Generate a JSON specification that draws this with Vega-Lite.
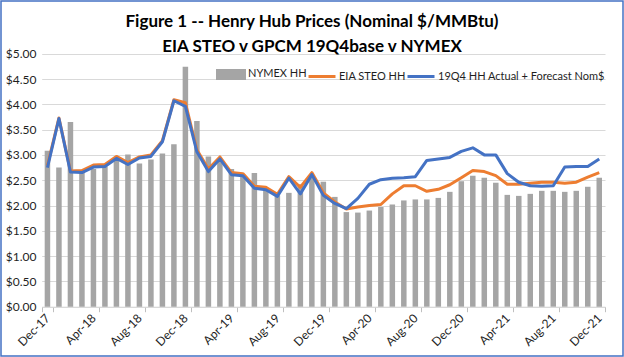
{
  "$schema": "https://vega.github.io/schema/vega-lite/v6.json",
  "width": 622,
  "height": 355,
  "autosize": {"type": "none"},
  "padding": {"left": 1, "top": 1, "right": 1, "bottom": 1},
  "background": "white",
  "config": {
    "view": {"stroke": "#4472C4", "strokeWidth": 1.5},
    "font": "Lato",
    "axis": {"labelFont": "Lato", "labelColor": "#1f1f1f", "labelFontSize": 12, "titleFont": "Lato"},
    "legend": {"labelFont": "Lato"}
  },
  "title": {
    "text": ["Figure 1 -- Henry Hub Prices (Nominal $/MMBtu)", "EIA STEO v GPCM 19Q4base v NYMEX"],
    "font": "Lato",
    "fontSize": 17,
    "fontWeight": "bold",
    "color": "#000000",
    "lineHeight": 25,
    "anchor": "middle",
    "frame": "group",
    "offset": -55
  },
  "data": {
    "values": [
      {"month": "Dec-17", "nymex": 3.08, "steo": 2.79, "gpcm": 2.75},
      {"month": "Jan-18", "nymex": 2.75, "steo": 3.73, "gpcm": 3.72},
      {"month": "Feb-18", "nymex": 3.65, "steo": 2.68, "gpcm": 2.66},
      {"month": "Mar-18", "nymex": 2.64, "steo": 2.69, "gpcm": 2.65},
      {"month": "Apr-18", "nymex": 2.72, "steo": 2.80, "gpcm": 2.76},
      {"month": "May-18", "nymex": 2.77, "steo": 2.81, "gpcm": 2.77},
      {"month": "Jun-18", "nymex": 2.93, "steo": 2.97, "gpcm": 2.93},
      {"month": "Jul-18", "nymex": 3.01, "steo": 2.85, "gpcm": 2.81},
      {"month": "Aug-18", "nymex": 2.83, "steo": 2.96, "gpcm": 2.94},
      {"month": "Sep-18", "nymex": 2.91, "steo": 3.00, "gpcm": 2.97},
      {"month": "Oct-18", "nymex": 3.03, "steo": 3.28, "gpcm": 3.26},
      {"month": "Nov-18", "nymex": 3.21, "steo": 4.09, "gpcm": 4.07},
      {"month": "Dec-18", "nymex": 4.74, "steo": 4.03, "gpcm": 3.96},
      {"month": "Jan-19", "nymex": 3.67, "steo": 3.10, "gpcm": 3.06},
      {"month": "Feb-19", "nymex": 2.97, "steo": 2.72, "gpcm": 2.67},
      {"month": "Mar-19", "nymex": 2.90, "steo": 2.96, "gpcm": 2.92},
      {"month": "Apr-19", "nymex": 2.72, "steo": 2.65, "gpcm": 2.61},
      {"month": "May-19", "nymex": 2.61, "steo": 2.63, "gpcm": 2.59},
      {"month": "Jun-19", "nymex": 2.64, "steo": 2.38, "gpcm": 2.34},
      {"month": "Jul-19", "nymex": 2.34, "steo": 2.36, "gpcm": 2.31},
      {"month": "Aug-19", "nymex": 2.20, "steo": 2.22, "gpcm": 2.18},
      {"month": "Sep-19", "nymex": 2.25, "steo": 2.57, "gpcm": 2.54},
      {"month": "Oct-19", "nymex": 2.42, "steo": 2.36, "gpcm": 2.23},
      {"month": "Nov-19", "nymex": 2.60, "steo": 2.65, "gpcm": 2.61},
      {"month": "Dec-19", "nymex": 2.47, "steo": 2.25, "gpcm": 2.20},
      {"month": "Jan-20", "nymex": 2.17, "steo": 2.07, "gpcm": 2.04},
      {"month": "Feb-20", "nymex": 1.87, "steo": 1.93, "gpcm": 1.94},
      {"month": "Mar-20", "nymex": 1.86, "steo": 1.97, "gpcm": 2.14},
      {"month": "Apr-20", "nymex": 1.90, "steo": 2.00, "gpcm": 2.42},
      {"month": "May-20", "nymex": 1.97, "steo": 2.02, "gpcm": 2.51},
      {"month": "Jun-20", "nymex": 2.02, "steo": 2.23, "gpcm": 2.54},
      {"month": "Jul-20", "nymex": 2.10, "steo": 2.39, "gpcm": 2.55},
      {"month": "Aug-20", "nymex": 2.12, "steo": 2.39, "gpcm": 2.57},
      {"month": "Sep-20", "nymex": 2.12, "steo": 2.28, "gpcm": 2.89},
      {"month": "Oct-20", "nymex": 2.15, "steo": 2.32, "gpcm": 2.92},
      {"month": "Nov-20", "nymex": 2.27, "steo": 2.41, "gpcm": 2.95},
      {"month": "Dec-20", "nymex": 2.48, "steo": 2.55, "gpcm": 3.07},
      {"month": "Jan-21", "nymex": 2.59, "steo": 2.69, "gpcm": 3.14},
      {"month": "Feb-21", "nymex": 2.55, "steo": 2.67, "gpcm": 3.00},
      {"month": "Mar-21", "nymex": 2.45, "steo": 2.59, "gpcm": 3.00},
      {"month": "Apr-21", "nymex": 2.21, "steo": 2.42, "gpcm": 2.63},
      {"month": "May-21", "nymex": 2.19, "steo": 2.42, "gpcm": 2.46},
      {"month": "Jun-21", "nymex": 2.23, "steo": 2.44, "gpcm": 2.39},
      {"month": "Jul-21", "nymex": 2.29, "steo": 2.46, "gpcm": 2.38},
      {"month": "Aug-21", "nymex": 2.29, "steo": 2.46, "gpcm": 2.39},
      {"month": "Sep-21", "nymex": 2.27, "steo": 2.44, "gpcm": 2.76},
      {"month": "Oct-21", "nymex": 2.29, "steo": 2.46, "gpcm": 2.77},
      {"month": "Nov-21", "nymex": 2.37, "steo": 2.56, "gpcm": 2.77},
      {"month": "Dec-21", "nymex": 2.55, "steo": 2.65, "gpcm": 2.92}
    ]
  },
  "encoding": {
    "x": {
      "field": "month",
      "type": "nominal",
      "sort": null,
      "scale": {"type": "band", "range": [40.7, 604], "paddingInner": 0, "paddingOuter": 0},
      "axis": {
        "title": null,
        "orient": "bottom",
        "offset": -49.3,
        "values": ["Dec-17", "Apr-18", "Aug-18", "Dec-18", "Apr-19", "Aug-19", "Dec-19", "Apr-20", "Aug-20", "Dec-20", "Apr-21", "Aug-21", "Dec-21"],
        "labelAngle": -45,
        "labelAlign": "right",
        "labelBaseline": "middle",
        "labelPadding": 4,
        "labelOverlap": false,
        "tickBand": "extent",
        "tickExtra": false,
        "tickSize": 5,
        "tickColor": "#BFBFBF",
        "domainColor": "#D9D9D9",
        "domainWidth": 1,
        "grid": false
      }
    }
  },
  "layer": [
    {
      "mark": {"type": "bar", "size": 5.5},
      "encoding": {
        "y": {
          "field": "nymex",
          "type": "quantitative",
          "scale": {"domain": [0, 5], "range": [305.7, 52.7], "nice": false, "zero": false},
          "axis": {
            "title": null,
            "orient": "left",
            "offset": -35,
            "values": [0, 0.5, 1, 1.5, 2, 2.5, 3, 3.5, 4, 4.5, 5],
            "format": "$.2f",
            "labelOverlap": false,
            "ticks": false,
            "domain": false,
            "labelPadding": 0,
            "grid": true,
            "gridColor": "#D9D9D9",
            "gridWidth": 1
          }
        },
        "y2": {"datum": 0},
        "color": {
          "datum": "NYMEX HH",
          "type": "nominal",
          "scale": {
            "domain": ["NYMEX HH", "EIA STEO HH", "19Q4 HH Actual + Forecast Nom$"],
            "range": ["#A5A5A5", "#ED7D31", "#4472C4"]
          },
          "legend": {
            "title": null,
            "orient": "none",
            "legendX": 215,
            "legendY": 58,
            "direction": "horizontal",
            "padding": 0,
            "labelFontSize": 11,
            "labelColor": "#1f1f1f",
            "labelLimit": 400,
            "labelOffset": 2,
            "columnPadding": -6,
            "symbolSize": 729,
            "encode": {
              "symbols": {
                "update": {
                  "shape": {"signal": "datum.value === 'NYMEX HH' ? 'M-1,-0.3H1V0.3H-1Z' : 'stroke'"},
                  "fill": {"signal": "datum.value === 'NYMEX HH' ? '#A5A5A5' : 'transparent'"},
                  "stroke": {"signal": "datum.value === 'NYMEX HH' ? 'transparent' : (datum.value === 'EIA STEO HH' ? '#ED7D31' : '#4472C4')"},
                  "strokeWidth": {"value": 3},
                  "opacity": {"value": 1}
                }
              }
            }
          }
        }
      }
    },
    {
      "mark": {"type": "line", "strokeWidth": 3, "strokeJoin": "round"},
      "encoding": {
        "y": {
          "field": "steo",
          "type": "quantitative",
          "axis": {
            "title": null,
            "orient": "left",
            "offset": -35,
            "values": [0, 0.5, 1, 1.5, 2, 2.5, 3, 3.5, 4, 4.5, 5],
            "format": "$.2f",
            "labelOverlap": false,
            "ticks": false,
            "domain": false,
            "labelPadding": 0,
            "grid": true,
            "gridColor": "#D9D9D9",
            "gridWidth": 1
          }
        },
        "color": {"datum": "EIA STEO HH", "type": "nominal"}
      }
    },
    {
      "mark": {"type": "line", "strokeWidth": 3, "strokeJoin": "round"},
      "encoding": {
        "y": {
          "field": "gpcm",
          "type": "quantitative",
          "axis": {
            "title": null,
            "orient": "left",
            "offset": -35,
            "values": [0, 0.5, 1, 1.5, 2, 2.5, 3, 3.5, 4, 4.5, 5],
            "format": "$.2f",
            "labelOverlap": false,
            "ticks": false,
            "domain": false,
            "labelPadding": 0,
            "grid": true,
            "gridColor": "#D9D9D9",
            "gridWidth": 1
          }
        },
        "color": {"datum": "19Q4 HH Actual + Forecast Nom$", "type": "nominal"}
      }
    }
  ]
}
